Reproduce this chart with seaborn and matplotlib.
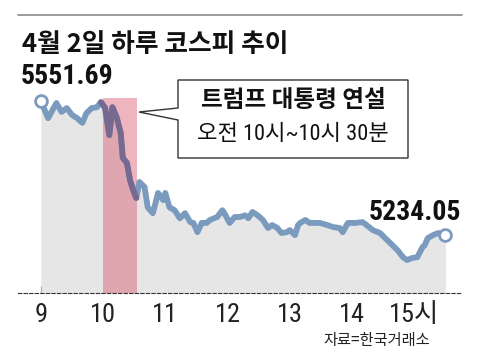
import numpy as np
import pandas as pd
import matplotlib
matplotlib.use("Agg")
import matplotlib.pyplot as plt
import seaborn as sns
from matplotlib.patches import Polygon
from matplotlib import font_manager

# ---- data (minutes after 09:00, KOSPI value) ----
minutes = [0, 7, 15, 20, 25, 30, 35, 40, 44, 49, 54, 58, 62, 66, 69, 73, 77, 79, 83, 86,
           89, 92, 95, 100, 103, 108, 113, 118, 120, 124, 129, 134, 139, 144, 147, 151,
           155, 160, 163, 170, 175, 177, 182, 187, 192, 197, 200, 204, 209, 214, 219,
           223, 228, 232, 237, 240, 245, 248, 250, 255, 259, 269, 276, 282, 288, 291,
           296, 303, 310, 314, 320, 327, 334, 339, 344, 349, 353, 358, 363, 368, 370,
           373, 378, 383, 390]
values = [5551.69, 5511, 5547, 5526, 5535, 5519, 5511, 5500, 5523, 5535, 5537, 5549,
          5535, 5471, 5537, 5514, 5476, 5417, 5405, 5364, 5341, 5322, 5360, 5348, 5300,
          5286, 5334, 5317, 5334, 5300, 5293, 5274, 5286, 5265, 5263, 5241, 5263, 5263,
          5270, 5277, 5293, 5286, 5263, 5277, 5277, 5281, 5274, 5289, 5281, 5270, 5251,
          5258, 5251, 5239, 5241, 5246, 5234, 5258, 5263, 5270, 5263, 5263, 5258, 5253,
          5251, 5241, 5263, 5263, 5265, 5258, 5246, 5239, 5222, 5210, 5198, 5182, 5175,
          5180, 5182, 5206, 5210, 5227, 5234, 5239, 5234.05]
tick_minutes = [0, 60, 120, 180, 240, 300, 360]
tick_labels = ["9", "10", "11", "12", "13", "14", "15시"]
speech_window = [60, 93]
title = "4월 2일 하루 코스피 추이"
start_label = "5551.69"
end_label = "5234.05"
callout_title = "트럼프 대통령 연설"
callout_sub = "오전 10시~10시 30분"
source = "자료=한국거래소"

df = pd.DataFrame({"min": minutes, "val": values})

sns.set_theme(style="white")
plt.rcParams["font.family"] = ["Noto Sans CJK KR", "DejaVu Sans"]

names = {f.name for f in font_manager.fontManager.ttflist}
NUM = ["Liberation Sans Narrow", "Noto Sans CJK KR"] if "Liberation Sans Narrow" in names \
    else ["Roboto Condensed", "Noto Sans CJK KR"] if "Roboto Condensed" in names \
    else ["DejaVu Sans", "Noto Sans CJK KR"]
STRETCH = "condensed"

W, H = 480, 360
fig = plt.figure(figsize=(4.8, 3.6), dpi=100)
fig.patch.set_facecolor("white")

def fx(x):
    return x / W

def fy(y):
    return 1 - y / H

ax = fig.add_axes([fx(18), fy(293), fx(462) - fx(18), fy(80) - fy(293)])
ax.set_facecolor("none")
ymin, ymax = 5097, 5601.5
ax.set_xlim(-22, 406)
ax.set_ylim(ymin, ymax)

ax.fill_between(df["min"], ymin, df["val"], color="#E6E6E6", lw=0, zorder=1)
ax.fill_between(speech_window, ymin, 5559, color="#D8475E", alpha=0.4, lw=0, zorder=2)
sns.lineplot(data=df, x="min", y="val", ax=ax, color="#7B9BBE", linewidth=4.2,
             zorder=3, solid_capstyle="round", solid_joinstyle="round")
sub = df[(df["min"] >= speech_window[0] - 2) & (df["min"] <= speech_window[1])]
ax.plot(sub["min"], sub["val"], color="#77698F", linewidth=4.2, zorder=4,
        solid_capstyle="round", solid_joinstyle="round")
ax.plot([minutes[0], minutes[-1]], [values[0], values[-1]], "o", ms=8.5,
        mfc="white", mec="#7B9BBE", mew=2, zorder=5, ls="none")

for s in ["top", "left", "right"]:
    ax.spines[s].set_visible(False)
ax.spines["bottom"].set_linestyle((0, (3, 2)))
ax.spines["bottom"].set_color("#333333")
ax.spines["bottom"].set_linewidth(0.8)
ax.set_yticks([])
ax.set_xticks(tick_minutes)
ax.set_xticklabels(tick_labels, family=NUM, fontsize=19, color="#222222",
                   fontstretch=STRETCH)
ax.tick_params(axis="x", direction="in", length=5, width=0.8, color="#333333", pad=7,
               bottom=True)
ax.set_xlabel("")
ax.set_ylabel("")

fig.add_artist(plt.Line2D([fx(18), fx(462)], [fy(15), fy(15)], color="#8A8A8A", lw=1.2))

fig.text(fx(22), fy(44), title, fontsize=18.5, fontweight="bold", va="center", ha="left",
         color="#111111")
fig.text(fx(21), fy(77), start_label, family=NUM, fontsize=20, fontweight="bold",
         fontstretch=STRETCH, va="center", ha="left", color="#111111")
fig.text(fx(461), fy(212), end_label, family=NUM, fontsize=20, fontweight="bold",
         fontstretch=STRETCH, va="center", ha="right", color="#111111")
fig.text(fx(430), fy(340), source, fontsize=11, va="center", ha="right", color="#222222")

pts = [(178, 80), (408, 80), (408, 158), (178, 158), (178, 120), (139, 112), (178, 108)]
poly = Polygon([(fx(x), fy(y)) for x, y in pts], closed=True, transform=fig.transFigure,
               facecolor="white", edgecolor="#333333", lw=1, zorder=10)
fig.add_artist(poly)
fig.text(fx(293), fy(100), callout_title, fontsize=17, fontweight="bold", ha="center",
         va="center", color="#111111", zorder=11)
fig.text(fx(293), fy(134), callout_sub, family=NUM, fontstretch=STRETCH, fontsize=16,
         ha="center", va="center", color="#111111", zorder=11)

fig.savefig("out.png", dpi=100, facecolor="white")
